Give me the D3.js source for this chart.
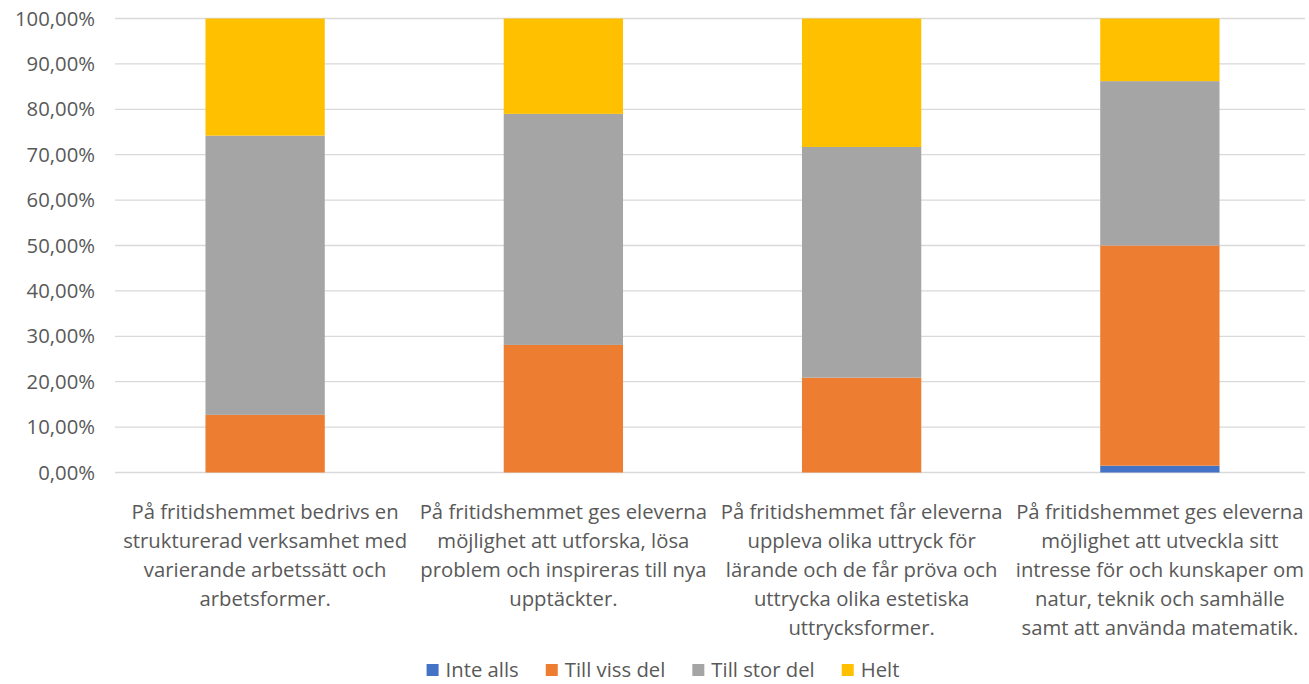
<!DOCTYPE html>
<html><head><meta charset="utf-8">
<script src="https://cdn.jsdelivr.net/npm/d3@7"></script>
<style>body{margin:0;background:#fff;} svg{display:block;}</style>
</head><body>
<svg id="c" width="1309" height="684"></svg>
<script>
const categories = [
  ["På fritidshemmet bedrivs en","strukturerad verksamhet med","varierande arbetssätt och","arbetsformer."],
  ["På fritidshemmet ges eleverna","möjlighet att utforska, lösa","problem och inspireras till nya","upptäckter."],
  ["På fritidshemmet får eleverna","uppleva olika uttryck för","lärande och de får pröva och","uttrycka olika estetiska","uttrycksformer."],
  ["På fritidshemmet ges eleverna","möjlighet att utveckla sitt","intresse för och kunskaper om","natur, teknik och samhälle","samt att använda matematik."]
];
const seriesNames = ["Inte alls","Till viss del","Till stor del","Helt"];
const inteAlls   = [0, 0, 0, 1.5];
const tillViss   = [12.7, 28.1, 20.9, 48.5];
const tillStor   = [61.5, 50.9, 50.8, 36.2];
const helt       = [25.8, 21.0, 28.3, 13.8];
const colors = ["#4472C4","#ED7D31","#A5A5A5","#FFC000"];
const yTicks = [0,10,20,30,40,50,60,70,80,90,100];

const svg = d3.select("#c");
const font = "'Open Sans', sans-serif";
const fs = 20.3;
const x = d3.scaleBand().domain(d3.range(categories.length)).range([116,1309]).paddingInner(0.6).paddingOuter(0.3);
const y = d3.scaleLinear().domain([0,100]).range([472.5,18.5]);

// gridlines
svg.append("g").selectAll("line").data(yTicks).join("line")
  .attr("x1",115).attr("x2",1305).attr("y1",d=>y(d)).attr("y2",d=>y(d))
  .attr("stroke","#d9d9d9").attr("stroke-width",1.3);

// y labels
svg.append("g").selectAll("text").data(yTicks).join("text")
  .attr("x",95).attr("y",d=>y(d)).attr("dy","0.35em").attr("text-anchor","end")
  .attr("font-family",font).attr("font-size",fs).attr("fill","#595959")
  .text(d=>d3.format(".2f")(d).replace(".",",")+"%");

const rows = categories.map((c,i)=>({i, a:inteAlls[i], b:tillViss[i], c:tillStor[i], d:helt[i]}));
const stack = d3.stack().keys(["a","b","c","d"])(rows);
svg.append("g").selectAll("g").data(stack).join("g").attr("fill",(d,i)=>colors[i])
  .selectAll("rect").data(d=>d).join("rect")
  .attr("x",d=>x(d.data.i)).attr("width",x.bandwidth())
  .attr("y",d=>y(d[1])).attr("height",d=>Math.max(0,y(d[0])-y(d[1])));

// category labels
const cl = svg.append("g");
categories.forEach((lines,i)=>{
  const t = cl.append("text").attr("text-anchor","middle").attr("font-family",font)
    .attr("font-size",fs).attr("fill","#595959");
  lines.forEach((ln,j)=>{
    t.append("tspan").attr("x",x(i)+x.bandwidth()/2).attr("y",512+j*29).attr("dy","0.35em").text(ln);
  });
});

// legend (laid out from measured text widths, centred)
const lg = svg.append("g");
let cx = 0;
seriesNames.forEach((n,i)=>{
  const g = lg.append("g").attr("transform",`translate(${cx},0)`);
  g.append("rect").attr("x",0).attr("y",664).attr("width",12).attr("height",12).attr("fill",colors[i]);
  const t = g.append("text").attr("x",19).attr("y",670).attr("dy","0.35em")
    .attr("font-family",font).attr("font-size",fs).attr("fill","#595959").text(n);
  cx += 19 + t.node().getComputedTextLength() + 27;
});
const total = cx - 27;
lg.attr("transform",`translate(${663 - total/2},0)`);
</script>
</body></html>
